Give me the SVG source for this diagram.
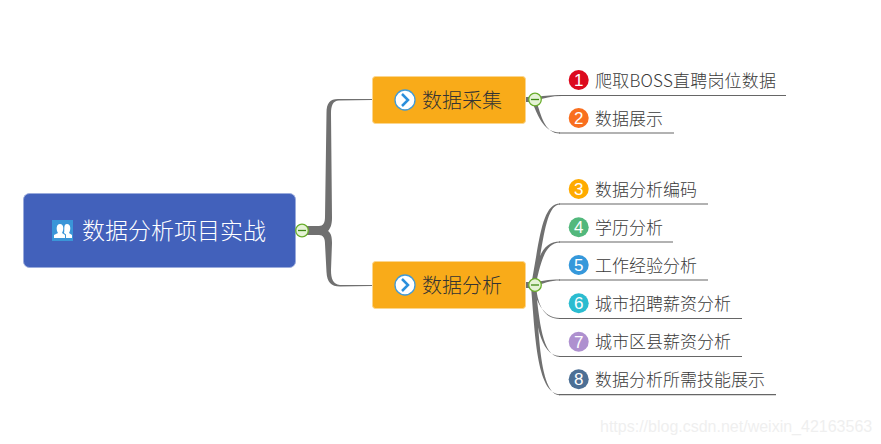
<svg xmlns="http://www.w3.org/2000/svg" width="881" height="444" viewBox="0 0 881 444">
<style>
text{font-family:"Microsoft YaHei","Noto Sans CJK SC","Liberation Sans",sans-serif;font-weight:300}
.root{fill:#4261bb;stroke:#9aabdc;stroke-width:1}
.topic{fill:#f9ab19;stroke:#fbd68f;stroke-width:1}
.rt{font-size:23px;fill:#fff}
.tt{font-size:20px;fill:#333}
.lt{font-size:17px;fill:#3a3a3a}
.num{font-size:17px;fill:#fff;text-anchor:middle;font-family:"Liberation Sans",sans-serif;font-weight:400}
.ul{stroke:#666;stroke-width:1.2;fill:none}
.br{fill:#707070}
.cc{fill:#e6f3d6;stroke:#69ad2c;stroke-width:1.3}
.cm{stroke:#3f8a14;stroke-width:1.3}
</style>
<rect width="881" height="444" fill="#fff"/>
<g id="connectors">
<path class="br" d="M302,226 H319 C323,226 325,223 325,217 L326.5,113 C326.5,103 330,99 338,99 L372,99 V100 L339,100.5 C333,101 331,105 331,114 L332,218 C332,225 330,229 328,231 C331,233 332,237 332,243 L331,270 C331,279 333,284 340,285 L372,285 V286 L340,286.5 C331,286.5 327,282 326.5,272 L325,244 C325,238 323,235 319,235 H302 Z"/>
<path class="br" d="M526,97 H535 V102 H526 Z M533,97.5 C542,96 550,95 562,95 V96 C552,96 543,98 535,101 Z M532,102 C537,112 542,132.5 560,132.5 V133.5 C544,133.5 541,114 536.5,102 Z"/>
<path class="br" d="M526,282 H533 V288 H526 Z"/>
<path class="br" d="M531.5,283 C539.5,240 542,203.5 560,203.5 V204.500 C546,204.500 543.500,240 535.500,283 Z"/>
<path class="br" d="M532,283 C537,262 541,241.500 560,241.500 V242.500 C545,242.500 541,262 536,283 Z"/>
<path class="br" d="M533,283 C541,281 548,279.500 560,279.500 V280.500 C550,280.500 543,283 535,287 Z"/>
<path class="br" d="M532,287 C537,300 542,318 560,318 V319 C544,319 538,305 536,287 Z"/>
<path class="br" d="M531.500,287 C536,318 539,356 560,356 V357 C542,357 539.500,320 535.500,287 Z"/>
<path class="br" d="M531,287 C535,330 536,394.200 560,394.200 V395.200 C540,395.200 539,335 535.500,287 Z"/>
<path class="ul" d="M559,95.5 H786 M559,133 H674 M559,204 H708 M559,242 H673 M559,280 H708 M559,318.5 H742 M559,356.5 H742 M559,394.7 H776"/>
</g>
<g id="root">
<rect class="root" x="23.5" y="193.5" width="272" height="74" rx="6"/>
<rect x="52" y="220" width="21" height="21" fill="#3a95d8"/>
<path fill="#fff" d="M54,238 V235 L58,233 C56,230 56,224 60,224 C64,224 64,230 62,233 L65,235 V238 Z M66,238 V234.500 L64,233 C65,230 63,224 67,224 C71,224 71,230 69,233 L72,235 V238 Z"/>
<text class="rt" x="82" y="239">数据分析项目实战</text>
<circle class="cc" cx="302" cy="230.500" r="6.300"/><path class="cm" d="M298,230.500 H306"/>
</g>
<g id="topic1">
<rect class="topic" x="372.500" y="76.500" width="153" height="47" rx="3"/>
<circle cx="405" cy="100" r="10" fill="#fff" stroke="#3f9ad8" stroke-width="1.300"/>
<path d="M402,94 L408,100 L402,106" fill="none" stroke="#2a8fdc" stroke-width="2.500"/>
<text class="tt" x="422" y="107.500">数据采集</text>
<circle class="cc" cx="535" cy="99.500" r="6.300"/><path class="cm" d="M531,99.500 H539"/>
</g>
<g id="topic2">
<rect class="topic" x="372.500" y="261.500" width="153" height="47" rx="3"/>
<circle cx="405" cy="285" r="10" fill="#fff" stroke="#3f9ad8" stroke-width="1.300"/>
<path d="M402,279 L408,285 L402,291" fill="none" stroke="#2a8fdc" stroke-width="2.500"/>
<text class="tt" x="422" y="292.500">数据分析</text>
<circle class="cc" cx="535" cy="285" r="6.300"/><path class="cm" d="M531,285 H539"/>
</g>
<g id="leaf1"><circle cx="578.700" cy="80" r="10" fill="#dc0a1e"/><text class="num" x="578.700" y="86">1</text><text class="lt" x="595" y="87" textLength="181" lengthAdjust="spacing">爬取BOSS直聘岗位数据</text></g>
<g id="leaf2"><circle cx="578.700" cy="118" r="10" fill="#f96f1f"/><text class="num" x="578.700" y="124">2</text><text class="lt" x="595" y="125">数据展示</text></g>
<g id="leaf3"><circle cx="578.700" cy="189" r="10" fill="#ffab00"/><text class="num" x="578.700" y="195">3</text><text class="lt" x="595" y="196">数据分析编码</text></g>
<g id="leaf4"><circle cx="578.700" cy="227.300" r="10" fill="#52b87c"/><text class="num" x="578.700" y="233.300">4</text><text class="lt" x="595" y="234">学历分析</text></g>
<g id="leaf5"><circle cx="578.700" cy="265" r="10" fill="#3598db"/><text class="num" x="578.700" y="271">5</text><text class="lt" x="595" y="272">工作经验分析</text></g>
<g id="leaf6"><circle cx="578.700" cy="303.300" r="10" fill="#2bbcd0"/><text class="num" x="578.700" y="309.300">6</text><text class="lt" x="595" y="310">城市招聘薪资分析</text></g>
<g id="leaf7"><circle cx="578.700" cy="341.700" r="10" fill="#ae90cf"/><text class="num" x="578.700" y="347.700">7</text><text class="lt" x="595" y="348">城市区县薪资分析</text></g>
<g id="leaf8"><circle cx="578.700" cy="379.300" r="10" fill="#4c6f95"/><text class="num" x="578.700" y="385.300">8</text><text class="lt" x="595" y="386">数据分析所需技能展示</text></g>
<text x="600" y="432" font-size="16" fill="#efefef" style="font-family:'Liberation Sans',sans-serif;font-weight:400">https://blog.csdn.net/weixin_42163563</text>
</svg>
